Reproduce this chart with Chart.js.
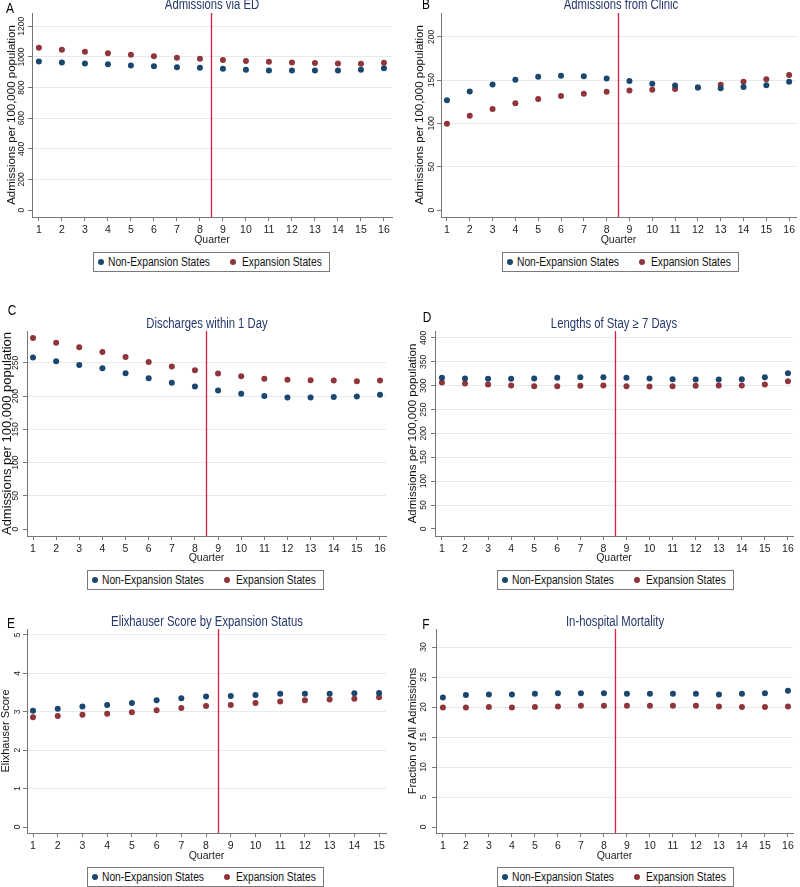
<!DOCTYPE html>
<html>
<head>
<meta charset="utf-8">
<script src="https://cdn.jsdelivr.net/npm/chart.js@4.4.1/dist/chart.umd.min.js"></script>
<style>
  body { margin: 0; background: #fff; }
  #page { position: relative; width: 800px; height: 887px; overflow: hidden; font-family: 'Liberation Sans', Arial, sans-serif; }
  canvas { position: absolute; }
  .title { position: absolute; color: #24386b; font-size: 13.8px; white-space: nowrap; transform: translate(-50%, -50%) scaleX(0.82); }
  .letter { position: absolute; color: #000; font-size: 14px; transform: translate(-50%, -50%) scaleX(0.85); }
  .legend { position: absolute; border: 1px solid #7a7a7a; box-sizing: border-box; height: 20px; width: 237px; font-size: 12.5px; color: #111; }
  .legend span { position: absolute; top: 50%; transform-origin: left center; transform: translateY(-50%) scaleX(0.82); white-space: nowrap; }
  .legend i { position: absolute; top: 50%; width: 6px; height: 6px; border-radius: 50%; margin-top: -3px; }
</style>
</head>
<body>
<div id="page"></div>
<script>
const quarters16 = [1, 2, 3, 4, 5, 6, 7, 8, 9, 10, 11, 12, 13, 14, 15, 16];
const quarters15 = [1, 2, 3, 4, 5, 6, 7, 8, 9, 10, 11, 12, 13, 14, 15];
const cutoff = 8.5;

const seriesNames = ['Non-Expansion States', 'Expansion States'];
const seriesColors = ['#1a476f', '#90353b'];

// A - Admissions via ED
const edNon = [970, 964, 957, 953, 945, 940, 933, 929, 923, 916, 912, 911, 911, 912, 916, 927];
const edExp = [1060, 1047, 1034, 1024, 1014, 1004, 995, 988, 980, 973, 968, 964, 961, 958, 955, 962];
const edTicks = [0, 200, 400, 600, 800, 1000, 1200];

// B - Admissions from Clinic
const clinicNon = [126.7, 137, 145, 150.5, 154, 155, 154.6, 152, 149, 146, 143.9, 141.6, 140.8, 142, 144.3, 148.3];
const clinicExp = [99.6, 108.8, 116.8, 123.3, 128.2, 131.7, 134.4, 136.6, 138.2, 138.9, 139.7, 141.6, 144.7, 148.1, 151.1, 156.1];
const clinicTicks = [0, 50, 100, 150, 200];

// C - Discharges within 1 Day
const dischNon = [258, 252.5, 247, 242, 234.5, 227, 220, 214.5, 208.5, 203.5, 200, 198, 198, 198.5, 199.5, 202];
const dischExp = [287.5, 280.5, 273.5, 266.5, 259, 251.5, 244.5, 239, 234, 230, 226, 224.5, 224, 223.5, 222.5, 223.5];
const dischTicks = [0, 50, 100, 150, 200, 250];

// D - Lengths of Stay >= 7 Days
const losNon = [316.5, 315, 314.4, 314.4, 315, 316.5, 318, 318, 316.5, 315, 313.7, 313, 313, 313.7, 318, 326.3];
const losExp = [306.8, 304.7, 302.6, 300.5, 299, 299, 299.8, 300.5, 299, 298.4, 299, 299.8, 300.5, 300.5, 302.6, 309.6];
const losTicks = [0, 50, 100, 150, 200, 250, 300, 350, 400];

// E - Elixhauser Score
const elixNon = [3.03, 3.08, 3.14, 3.18, 3.23, 3.30, 3.35, 3.40, 3.41, 3.44, 3.47, 3.47, 3.47, 3.48, 3.49];
const elixExp = [2.86, 2.89, 2.92, 2.95, 2.99, 3.04, 3.10, 3.15, 3.18, 3.23, 3.27, 3.30, 3.32, 3.34, 3.38];
const elixTicks = [0, 1, 2, 3, 4, 5];

// F - In-hospital Mortality
const mortNon = [21.6, 22.0, 22.1, 22.1, 22.2, 22.3, 22.3, 22.3, 22.2, 22.2, 22.2, 22.2, 22.1, 22.2, 22.3, 22.7];
const mortExp = [19.9, 19.9, 20.0, 19.9, 20.0, 20.1, 20.2, 20.2, 20.2, 20.2, 20.2, 20.2, 20.1, 20.0, 20.0, 20.1];
const mortTicks = [0, 5, 10, 15, 20, 25, 30];

const FONT = "'Liberation Sans', Arial, sans-serif";

const panels = [
  { letter: 'A', title: 'Admissions via ED', yTitle: 'Admissions per 100,000 population', quarters: quarters16, non: edNon, exp: edExp, yTicks: edTicks,
    box: { left: 0, top: 0, w: 400, h: 250 }, area: { l: 32, t: 13, r: 392, b: 217 }, x: [0.7, 16.35], y: [-45, 1287],
    yTitleSize: 11.5, yTitleX: 12, yLabelOff: 10, qFromBottom: 10, titleY: 4, letterPos: [10, 8], legend: [93, 252] },
  { letter: 'B', title: 'Admissions from Clinic', yTitle: 'Admissions per 100,000 population', quarters: quarters16, non: clinicNon, exp: clinicExp, yTicks: clinicTicks,
    box: { left: 400, top: 0, w: 400, h: 250 }, area: { l: 41, t: 13, r: 400, b: 217 }, x: [0.74, 16.3], y: [-8, 227.6],
    yTitleSize: 11.5, yTitleX: 20, yLabelOff: 9, qFromBottom: 10, titleY: 4, letterPos: [426, 4], legend: [502, 252] },
  { letter: 'C', title: 'Discharges within 1 Day', yTitle: 'Admissions per 100,000 population', quarters: quarters16, non: dischNon, exp: dischExp, yTicks: dischTicks,
    box: { left: 0, top: 295, w: 400, h: 275 }, area: { l: 27, t: 36, r: 386, b: 241 }, x: [0.74, 16.26], y: [-10.5, 298],
    yTitleSize: 13, yTitleX: 7, yLabelOff: 11, qFromBottom: 12, titleY: 323, letterPos: [11.5, 310], legend: [87, 570] },
  { letter: 'D', title: 'Lengths of Stay \u2265 7 Days', yTitle: 'Admissions per 100,000 population', quarters: quarters16, non: losNon, exp: losExp, yTicks: losTicks,
    box: { left: 400, top: 295, w: 400, h: 275 }, area: { l: 35, t: 36, r: 393, b: 241 }, x: [0.7, 16.22], y: [-14.7, 414.6],
    yTitleSize: 11.5, yTitleX: 13, yLabelOff: 11, qFromBottom: 12, titleY: 323, letterPos: [427, 317], legend: [497, 570] },
  { letter: 'E', title: 'Elixhauser Score by Expansion Status', yTitle: 'Elixhauser Score', quarters: quarters15, non: elixNon, exp: elixExp, yTicks: elixTicks,
    box: { left: 0, top: 590, w: 400, h: 277 }, area: { l: 27, t: 39, r: 386, b: 243 }, x: [0.757, 15.28], y: [-0.156, 5.156],
    yTitleSize: 11, yTitleX: 6, yLabelOff: 9, qFromBottom: 11, titleY: 621, letterPos: [10.5, 623], legend: [87, 867] },
  { letter: 'F', title: 'In-hospital Mortality', yTitle: 'Fraction of All Admissions', quarters: quarters16, non: mortNon, exp: mortExp, yTicks: mortTicks,
    box: { left: 400, top: 590, w: 400, h: 277 }, area: { l: 36, t: 39, r: 393, b: 243 }, x: [0.7, 16.22], y: [-1, 33],
    yTitleSize: 11, yTitleX: 13, yLabelOff: 12, qFromBottom: 11, titleY: 621, letterPos: [426, 624], legend: [497, 867] },
];

const cutoffLine = {
  id: 'cutoffLine',
  afterDatasetsDraw(chart) {
    const { ctx, chartArea, scales } = chart;
    const x = Math.round(scales.x.getPixelForValue(cutoff)) + 0.5;
    ctx.save();
    ctx.strokeStyle = '#d52046';
    ctx.lineWidth = 1.3;
    ctx.beginPath();
    ctx.moveTo(x, chartArea.top);
    ctx.lineTo(x, chartArea.bottom);
    ctx.stroke();
    ctx.restore();
  }
};

// stata style y labels, turned 90 degrees
const rotatedYLabels = {
  id: 'rotatedYLabels',
  afterDraw(chart, args, opts) {
    const { ctx, chartArea, scales } = chart;
    ctx.save();
    ctx.fillStyle = '#222';
    ctx.font = '8.5px ' + FONT;
    ctx.textAlign = 'center';
    ctx.textBaseline = 'middle';
    scales.y.ticks.forEach((t) => {
      const y = scales.y.getPixelForValue(t.value);
      ctx.save();
      ctx.translate(chartArea.left - opts.offset, y);
      ctx.rotate(-Math.PI / 2);
      ctx.fillText(String(t.value), 0, 0);
      ctx.restore();
    });
    ctx.restore();
  }
};

const page = document.getElementById('page');

function addDiv(cls, text, left, top) {
  const d = document.createElement('div');
  d.className = cls;
  d.textContent = text;
  d.style.left = left + 'px';
  d.style.top = top + 'px';
  page.appendChild(d);
  return d;
}

function addLegend(left, top) {
  const d = document.createElement('div');
  d.className = 'legend';
  d.style.left = left + 'px';
  d.style.top = top + 'px';
  d.innerHTML =
    '<i style="left:4px;background:' + seriesColors[0] + '"></i><span style="left:14px">' + seriesNames[0] + '</span>' +
    '<i style="left:136px;background:' + seriesColors[1] + '"></i><span style="left:148px">' + seriesNames[1] + '</span>';
  page.appendChild(d);
}

function makePanel(p) {
  const canvas = document.createElement('canvas');
  canvas.width = p.box.w;
  canvas.height = p.box.h;
  canvas.style.left = p.box.left + 'px';
  canvas.style.top = p.box.top + 'px';
  page.appendChild(canvas);

  const toPoints = (vals) => p.quarters.map((q, i) => ({ x: q, y: vals[i] }));

  new Chart(canvas, {
    type: 'scatter',
    data: {
      datasets: [
        { label: seriesNames[0], data: toPoints(p.non), backgroundColor: seriesColors[0], borderColor: seriesColors[0], pointRadius: 3, borderWidth: 0 },
        { label: seriesNames[1], data: toPoints(p.exp), backgroundColor: seriesColors[1], borderColor: seriesColors[1], pointRadius: 3, borderWidth: 0 },
      ]
    },
    plugins: [cutoffLine, rotatedYLabels],
    options: {
      responsive: false,
      devicePixelRatio: 1,
      animation: false,
      layout: { padding: { left: 0, top: p.area.t, right: p.box.w - p.area.r, bottom: 0 } },
      plugins: {
        legend: { display: false },
        tooltip: { enabled: false },
        rotatedYLabels: { offset: p.yLabelOff },
      },
      scales: {
        x: {
          type: 'linear',
          min: p.x[0],
          max: p.x[1],
          afterBuildTicks: (scale) => { scale.ticks = p.quarters.map((v) => ({ value: v })); },
          afterFit: (scale) => { scale.height = p.box.h - p.area.b; },
          grid: { drawOnChartArea: false, drawTicks: true, tickLength: 4, tickColor: '#777' },
          border: { color: '#777', width: 1 },
          ticks: { color: '#222', padding: 3, font: { family: FONT, size: 10.5 }, maxRotation: 0, autoSkip: false },
          title: { display: true, text: 'Quarter', color: '#222', font: { family: FONT, size: 10.5 }, padding: { top: 0, bottom: p.qFromBottom - 6.3 } },
        },
        y: {
          type: 'linear',
          min: p.y[0],
          max: p.y[1],
          afterBuildTicks: (scale) => { scale.ticks = p.yTicks.map((v) => ({ value: v })); },
          afterFit: (scale) => { scale.width = p.area.l; },
          grid: { color: (c) => (c.tick && c.tick.value === 0 ? 'rgba(0,0,0,0)' : '#e2ecef'), drawTicks: true, tickLength: 4, tickColor: '#777' },
          border: { color: '#777', width: 1 },
          ticks: { display: false },
          title: { display: true, text: p.yTitle, color: '#111', font: { family: FONT, size: p.yTitleSize }, padding: { top: p.yTitleX - 0.6 * p.yTitleSize, bottom: 0 } },
        }
      }
    }
  });

  addDiv('title', p.title, p.box.left + (p.area.l + p.area.r) / 2, p.titleY);
  addDiv('letter', p.letter, p.letterPos[0], p.letterPos[1]);
  addLegend(p.legend[0], p.legend[1]);
}

panels.forEach(makePanel);
</script>
</body>
</html>
